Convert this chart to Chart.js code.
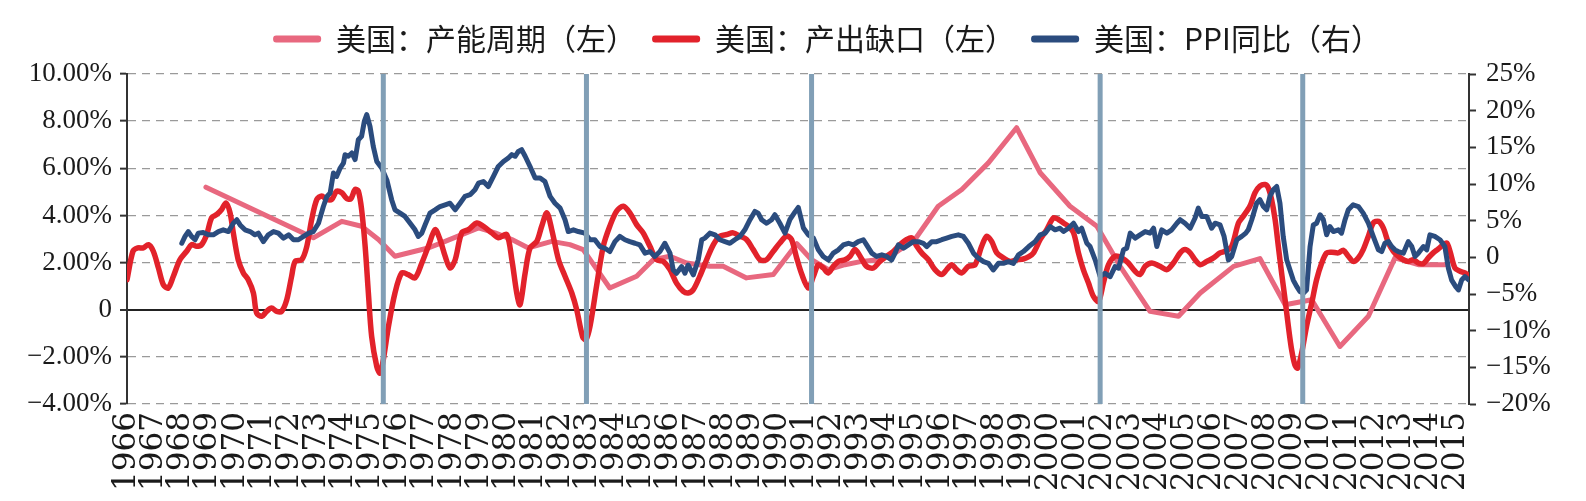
<!DOCTYPE html>
<html>
<head>
<meta charset="utf-8">
<script src="https://cdn.jsdelivr.net/npm/chart.js@4.4.1/dist/chart.umd.min.js"></script>
<style>
  html, body { margin: 0; padding: 0; background: #ffffff; }
  #wrap { width: 1586px; height: 501px; }
</style>
</head>
<body>
<div id="wrap"><canvas id="c" width="1586" height="501"></canvas></div>
<script>
// ---------------- DATA ----------------
const seriesNames = ['美国：产能周期（左）', '美国：产出缺口（左）', '美国：PPI同比（右）'];

// [year, value %]  — 产能周期 (left axis)
const capacityCycle = [
  [1968.91,5.2],[1972.87,3.05],[1973.92,3.75],[1974.65,3.54],[1975.27,2.98],[1975.88,2.27],[1976.62,2.48],
  [1977.11,2.62],[1977.73,2.9],[1978.96,3.47],[1979.57,3.26],[1980.19,2.98],[1980.8,2.62],[1981.66,2.9],
  [1982.33,2.76],[1982.82,2.55],[1983.8,0.92],[1984.79,1.42],[1985.4,2.12],[1986.02,2.27],[1986.63,1.98],
  [1987.49,1.84],[1987.98,1.84],[1988.84,1.35],[1989.83,1.49],[1990.7,2.8],[1991.24,2.12],[1991.86,1.7],
  [1992.47,1.91],[1993.09,2.05],[1993.7,2.12],[1994.32,2.41],[1995.05,2.98],[1995.91,4.39],[1996.78,5.1],
  [1997.76,6.23],[1998.8,7.72],[1999.67,5.81],[2000.77,4.39],[2001.76,3.54],[2002.62,1.84],[2003.72,-0.07],
  [2004.77,-0.28],[2005.57,0.71],[2006.8,1.84],[2007.77,2.17],[2008.7,0.21],[2009.68,0.42],[2010.72,-1.56],
  [2011.77,-0.28],[2012.75,2.2],[2013.61,1.91],[2014.59,1.91]
];

// [year, value %]  — 产出缺口 (left axis)
const outputGap = [
  [1966.0,1.27],[1966.22,2.48],[1966.4,2.62],[1966.6,2.62],[1966.79,2.76],[1966.97,2.48],[1967.16,1.77],[1967.34,1.06],
  [1967.52,0.92],[1967.71,1.42],[1967.95,2.12],[1968.2,2.48],[1968.38,2.76],[1968.57,2.69],[1968.75,2.76],[1968.94,3.19],
  [1969.12,3.9],[1969.31,4.04],[1969.49,4.25],[1969.65,4.53],[1969.8,4.11],[1969.92,3.26],[1970.1,2.12],[1970.29,1.56],
  [1970.47,1.27],[1970.66,0.71],[1970.78,-0.14],[1970.97,-0.28],[1971.15,-0.07],[1971.33,0.07],[1971.52,-0.07],[1971.7,-0.07],
  [1971.89,0.42],[1972.07,1.42],[1972.2,2.05],[1972.44,2.12],[1972.63,2.69],[1972.81,3.83],[1973.0,4.68],[1973.18,4.82],
  [1973.36,4.68],[1973.55,4.68],[1973.73,5.03],[1973.92,4.96],[1974.1,4.72],[1974.25,4.7],[1974.41,5.1],[1974.53,5.03],
  [1974.65,4.25],[1974.78,2.69],[1974.9,0.71],[1975.02,-1.13],[1975.21,-2.41],[1975.33,-2.69],[1975.45,-2.12],[1975.64,-0.71],
  [1975.88,0.71],[1976.13,1.56],[1976.37,1.49],[1976.62,1.35],[1976.87,1.98],[1977.11,2.69],[1977.36,3.4],[1977.54,2.98],
  [1977.73,2.27],[1977.91,1.77],[1978.1,2.12],[1978.34,3.26],[1978.59,3.4],[1978.9,3.68],[1979.14,3.54],[1979.45,3.26],
  [1979.69,3.05],[1980.0,3.19],[1980.19,2.12],[1980.37,0.71],[1980.49,0.21],[1980.68,1.56],[1980.86,2.62],[1981.11,2.9],
  [1981.29,3.54],[1981.48,4.11],[1981.66,3.4],[1981.91,2.12],[1982.15,1.42],[1982.4,0.71],[1982.58,0],[1982.8,-1.15],
  [1982.92,-1.27],[1983.07,-0.71],[1983.31,0.99],[1983.56,2.69],[1983.8,3.54],[1984.05,4.18],[1984.3,4.39],[1984.54,4.11],
  [1984.79,3.61],[1985.03,3.26],[1985.28,2.69],[1985.53,2.12],[1985.77,2.05],[1986.02,1.7],[1986.26,1.13],[1986.51,0.78],
  [1986.69,0.71],[1986.88,0.85],[1987.12,1.42],[1987.37,2.12],[1987.62,2.76],[1987.86,3.12],[1988.11,3.19],[1988.35,3.26],
  [1988.6,3.12],[1988.84,2.98],[1989.09,2.55],[1989.34,2.12],[1989.58,2.12],[1989.83,2.48],[1990.07,2.83],[1990.32,3.12],
  [1990.5,2.98],[1990.69,2.2],[1990.88,1.5],[1991.12,0.92],[1991.31,1.42],[1991.49,1.91],[1991.67,1.77],[1991.86,1.56],
  [1992.04,1.84],[1992.23,2.05],[1992.47,2.12],[1992.66,2.27],[1992.84,2.55],[1993.03,2.27],[1993.27,1.84],[1993.52,1.77],
  [1993.76,2.05],[1994.01,2.27],[1994.26,2.48],[1994.5,2.76],[1994.75,2.98],[1994.93,3.05],[1995.12,2.69],[1995.3,2.41],
  [1995.55,2.12],[1995.79,1.7],[1996.04,1.49],[1996.22,1.7],[1996.41,1.91],[1996.59,1.7],[1996.78,1.56],[1997.02,1.84],
  [1997.27,1.91],[1997.51,2.69],[1997.7,3.12],[1997.88,2.9],[1998.07,2.41],[1998.31,2.2],[1998.56,2.05],[1998.8,2.12],
  [1999.05,2.15],[1999.25,2.25],[1999.42,2.41],[1999.67,2.98],[1999.91,3.4],[2000.16,3.9],[2000.34,3.83],[2000.53,3.68],
  [2000.71,3.54],[2000.9,3.26],[2001.08,2.41],[2001.26,1.7],[2001.45,1.13],[2001.63,0.57],[2001.82,0.35],[2002.0,1.13],
  [2002.19,1.91],[2002.43,2.27],[2002.68,2.2],[2002.92,1.98],[2003.17,1.63],[2003.35,1.49],[2003.54,1.84],[2003.79,1.98],
  [2004.09,1.84],[2004.34,1.7],[2004.58,1.98],[2004.83,2.41],[2005.01,2.55],[2005.2,2.41],[2005.38,2.12],[2005.57,1.91],
  [2005.81,2.05],[2006.06,2.2],[2006.3,2.41],[2006.49,2.48],[2006.73,2.69],[2006.98,3.68],[2007.16,3.97],[2007.4,4.39],
  [2007.59,4.96],[2007.77,5.24],[2007.96,5.31],[2008.08,5.17],[2008.2,4.68],[2008.33,3.83],[2008.45,2.69],[2008.57,1.56],
  [2008.7,0.42],[2008.82,-0.71],[2008.94,-1.7],[2009.06,-2.34],[2009.16,-2.48],[2009.31,-1.84],[2009.49,-0.71],[2009.68,0.28],
  [2009.86,1.27],[2010.05,1.98],[2010.23,2.41],[2010.42,2.44],[2010.66,2.41],[2010.85,2.52],[2011.03,2.27],[2011.21,2.05],
  [2011.4,2.2],[2011.58,2.55],[2011.77,3.12],[2011.95,3.68],[2012.14,3.75],[2012.32,3.47],[2012.51,2.83],[2012.69,2.48],
  [2012.87,2.27],[2013.06,2.12],[2013.24,2.05],[2013.43,2.12],[2013.61,1.98],[2013.8,1.96],[2013.98,2.2],[2014.16,2.41],
  [2014.35,2.58],[2014.53,2.76],[2014.66,2.83],[2014.78,2.48],[2014.96,1.77],[2015.15,1.63],[2015.33,1.56],[2015.48,1.42]
];

// [year, value %]  — PPI同比 (right axis)
const ppiYoY = [
  [1968.02,1.92],[1968.14,2.85],[1968.26,3.52],[1968.38,2.85],[1968.51,2.4],[1968.63,3.3],[1968.81,3.39],[1969.0,3.07],
  [1969.18,3.07],[1969.37,3.52],[1969.55,3.75],[1969.74,3.52],[1969.92,4.65],[1970.05,5.13],[1970.17,4.42],[1970.35,3.75],
  [1970.54,3.52],[1970.72,3.07],[1970.84,3.3],[1971.03,2.14],[1971.21,3.07],[1971.4,3.52],[1971.58,3.3],[1971.77,2.62],
  [1971.96,3.07],[1972.14,2.4],[1972.32,2.4],[1972.51,2.85],[1972.7,3.3],[1972.87,3.52],[1973.06,4.65],[1973.24,6.93],
  [1973.37,8.31],[1973.49,8.76],[1973.61,11.49],[1973.73,11.04],[1973.86,12.17],[1973.98,12.84],[1974.04,14.0],[1974.16,13.78],
  [1974.29,14.23],[1974.41,13.33],[1974.53,16.03],[1974.65,16.51],[1974.75,18.53],[1974.84,19.47],[1974.96,17.86],[1975.08,15.13],
  [1975.21,13.07],[1975.39,12.17],[1975.58,10.56],[1975.76,7.83],[1975.88,6.48],[1976.07,6.03],[1976.25,5.58],[1976.44,4.65],
  [1976.62,3.75],[1976.74,2.85],[1976.87,3.3],[1976.99,4.42],[1977.17,6.03],[1977.36,6.48],[1977.54,6.93],[1977.73,7.16],
  [1977.91,7.38],[1978.1,6.48],[1978.28,7.38],[1978.46,8.31],[1978.65,8.54],[1978.83,9.21],[1978.96,10.11],[1979.14,10.34],
  [1979.32,9.66],[1979.51,11.04],[1979.69,12.39],[1979.88,13.07],[1980.06,13.55],[1980.19,14.0],[1980.31,13.78],[1980.43,14.45],
  [1980.55,14.68],[1980.68,13.78],[1980.86,12.39],[1981.05,10.82],[1981.23,10.82],[1981.41,10.34],[1981.6,8.31],[1981.78,7.38],
  [1981.97,6.71],[1982.15,5.13],[1982.27,3.52],[1982.46,3.75],[1982.64,3.52],[1982.88,3.3],[1983.07,2.4],[1983.25,2.4],
  [1983.44,1.47],[1983.62,1.24],[1983.8,0.79],[1983.99,2.14],[1984.17,2.85],[1984.36,2.4],[1984.54,2.14],[1984.73,1.92],
  [1984.91,1.69],[1985.1,0.57],[1985.28,0.79],[1985.46,0.12],[1985.65,0.79],[1985.83,1.92],[1986.02,0.57],[1986.14,-1.72],
  [1986.26,-2.17],[1986.45,-1.27],[1986.57,-2.17],[1986.69,-1.04],[1986.88,-2.39],[1987.06,-0.37],[1987.19,2.4],[1987.31,2.62],
  [1987.49,3.3],[1987.68,3.07],[1987.86,2.4],[1988.05,2.14],[1988.23,1.92],[1988.41,2.4],[1988.6,2.85],[1988.78,3.75],
  [1988.97,5.13],[1989.15,6.26],[1989.27,6.03],[1989.4,5.13],[1989.58,4.65],[1989.77,5.13],[1989.89,5.81],[1990.07,4.65],
  [1990.26,3.3],[1990.44,5.13],[1990.63,6.2],[1990.75,6.8],[1990.94,4.0],[1991.12,3.07],[1991.31,2.62],[1991.49,1.02],
  [1991.67,0.12],[1991.86,-0.37],[1992.04,0.57],[1992.23,1.02],[1992.41,1.69],[1992.6,1.92],[1992.78,1.69],[1992.96,2.14],
  [1993.15,2.4],[1993.27,1.69],[1993.46,0.57],[1993.64,0.12],[1993.83,0.34],[1994.01,0.12],[1994.19,-0.37],[1994.32,0.57],
  [1994.44,1.69],[1994.63,1.24],[1994.81,1.69],[1994.99,2.14],[1995.18,2.14],[1995.36,1.92],[1995.49,1.47],[1995.67,2.14],
  [1995.85,2.14],[1996.04,2.4],[1996.22,2.62],[1996.41,2.85],[1996.65,3.07],[1996.84,2.85],[1997.02,1.92],[1997.21,0.57],
  [1997.39,-0.11],[1997.58,-0.59],[1997.76,-0.82],[1997.94,-1.72],[1998.13,-0.82],[1998.31,-0.82],[1998.5,-0.59],[1998.68,-0.82],
  [1998.87,0.34],[1999.05,0.79],[1999.25,1.47],[1999.48,2.14],[1999.67,3.07],[1999.85,3.3],[2000.04,4.2],[2000.22,3.75],
  [2000.4,3.97],[2000.53,3.52],[2000.71,3.97],[2000.9,4.65],[2001.08,3.52],[2001.2,3.97],[2001.39,1.92],[2001.51,1.47],
  [2001.7,-0.37],[2001.88,-2.62],[2002.06,-2.17],[2002.25,-2.62],[2002.43,-1.27],[2002.56,-1.49],[2002.74,1.02],[2002.86,1.24],
  [2002.99,3.3],[2003.17,2.62],[2003.35,3.07],[2003.54,3.52],[2003.72,3.3],[2003.85,3.97],[2003.97,1.47],[2004.15,3.75],
  [2004.34,3.3],[2004.52,3.75],[2004.71,4.65],[2004.83,5.13],[2005.01,4.65],[2005.2,3.97],[2005.38,5.36],[2005.5,6.71],
  [2005.63,5.58],[2005.81,5.58],[2005.99,3.97],[2006.12,4.65],[2006.3,4.42],[2006.45,2.85],[2006.61,-0.37],[2006.73,0.12],
  [2006.92,2.4],[2007.1,2.85],[2007.25,3.3],[2007.34,3.75],[2007.47,5.13],[2007.65,7.38],[2007.77,7.86],[2007.9,6.93],
  [2008.02,6.48],[2008.14,8.31],[2008.26,9.21],[2008.39,9.66],[2008.51,7.38],[2008.63,2.85],[2008.76,-0.37],[2008.88,-1.72],
  [2009.0,-3.1],[2009.13,-4.0],[2009.25,-4.67],[2009.37,-4.9],[2009.49,-4.45],[2009.62,1.47],[2009.74,4.42],[2009.86,4.65],
  [2009.99,5.81],[2010.11,5.13],[2010.23,3.07],[2010.35,4.2],[2010.48,3.52],[2010.66,3.75],[2010.78,3.3],[2010.91,5.13],
  [2011.03,6.48],[2011.21,7.16],[2011.4,6.93],[2011.58,6.03],[2011.77,4.65],[2011.95,2.85],[2012.14,1.02],[2012.26,0.79],
  [2012.38,1.92],[2012.51,2.14],[2012.63,1.47],[2012.75,1.02],[2012.87,0.79],[2013.06,0.57],[2013.24,2.14],[2013.37,1.47],
  [2013.49,0.12],[2013.61,0.57],[2013.8,1.47],[2013.92,1.02],[2014.04,3.07],[2014.22,2.85],[2014.41,2.4],[2014.59,1.47],
  [2014.72,-1.49],[2014.84,-3.1],[2014.99,-4.0],[2015.09,-4.45],[2015.21,-3.1],[2015.33,-2.62],[2015.48,-3.1]
];

// recession trough markers (years)
const recessionMarks = [1975.45, 1982.94, 1991.24, 2001.88, 2009.35];

// axis ranges / ticks
const xRange = [1966, 2015.48];
const leftRange = [-4, 10], leftStep = 2;
const rightRange = [-20, 25], rightStep = 5;

// ---------------- STYLE ----------------
const PINK = '#E8687F', RED = '#E2222B', NAVY = '#2B4C7E', STEEL = '#819FB6';
const SERIF = "'Liberation Serif', 'Times New Roman', serif";
const CJK = "'Noto Sans CJK SC', 'Noto Sans', sans-serif";
const TXT = '#1a1a1a';
const LEGEND_FONT = 30;
const LEGEND_SHIFT = 24;

const toXY = arr => arr.map(p => ({x: p[0], y: p[1]}));
const recessionPoints = recessionMarks.flatMap(x => [{x, y: leftRange[0]}, {x, y: leftRange[1]}, {x, y: null}]);

const fmtLeft = v => v === 0 ? '0' : (v < 0 ? '\u2212' : '') + Math.abs(v).toFixed(2) + '%';
const fmtRight = v => v === 0 ? '0' : (v < 0 ? '\u2212' : '') + Math.abs(v) + '%';
const isZero = c => c.tick && c.tick.value === 0;

// nudges the legend block horizontally (reference legend sits a little right of centre)
const legendShift = {
  id: 'legendShift',
  afterLayout(chart) {
    const lg = chart.legend;
    if (lg) { lg.left += LEGEND_SHIFT; lg.right += LEGEND_SHIFT; }
  }
};

new Chart(document.getElementById('c'), {
  type: 'line',
  plugins: [legendShift],
  data: {
    datasets: [
      {label: seriesNames[0], data: toXY(capacityCycle), yAxisID: 'y', borderColor: PINK, backgroundColor: PINK,
       borderWidth: 5, order: 3, tension: 0},
      {label: seriesNames[1], data: toXY(outputGap), yAxisID: 'y', borderColor: RED, backgroundColor: RED,
       borderWidth: 5.5, order: 2, tension: 0.3},
      {label: seriesNames[2], data: toXY(ppiYoY), yAxisID: 'y2', borderColor: NAVY, backgroundColor: NAVY,
       borderWidth: 5, order: 1, tension: 0},
      {label: '', data: recessionPoints, yAxisID: 'y', borderColor: STEEL, backgroundColor: STEEL,
       borderWidth: 5, order: 0, spanGaps: false, borderCapStyle: 'butt'}
    ]
  },
  options: {
    responsive: false,
    animation: false,
    devicePixelRatio: 1,
    layout: {padding: {top: 54 - LEGEND_FONT - 16, left: 20, right: 0, bottom: 0}},
    elements: {
      point: {radius: 0, hoverRadius: 0},
      line: {borderCapStyle: 'round', borderJoinStyle: 'round', fill: false}
    },
    plugins: {
      tooltip: {enabled: false},
      title: {display: true, text: '', weight: 500, padding: 0, font: {size: 10, lineHeight: 1}},
      legend: {
        position: 'top',
        labels: {
          font: {family: CJK, size: LEGEND_FONT},
          color: TXT,
          boxWidth: 48,
          boxHeight: 7,
          padding: 16,
          useBorderRadius: true,
          borderRadius: 3,
          filter: item => item.text !== '',
          sort: (a, b) => a.datasetIndex - b.datasetIndex,
          generateLabels: chart => Chart.defaults.plugins.legend.labels.generateLabels(chart)
            .map(it => Object.assign(it, {lineWidth: 0}))
        }
      }
    },
    scales: {
      x: {
        type: 'linear',
        position: 'bottom',
        min: xRange[0], max: xRange[1],
        grid: {display: false, drawTicks: false},
        border: {display: false},
        ticks: {
          stepSize: 1, autoSkip: false, includeBounds: false,
          minRotation: 90, maxRotation: 90, padding: 8,
          font: {family: "'DejaVu Serif', serif", size: 31},
          color: TXT,
          callback: v => Number.isInteger(v) ? String(v) : ''
        },
        afterFit: s => { s.height = 97; }
      },
      y: {
        position: 'left',
        min: leftRange[0], max: leftRange[1],
        ticks: {stepSize: leftStep, autoSkip: false, padding: 8, font: {family: SERIF, size: 27}, color: TXT, callback: fmtLeft},
        grid: {
          color: c => isZero(c) ? '#222222' : '#9a9a9a',
          lineWidth: c => isZero(c) ? 2 : 1.3,
          drawTicks: true, tickLength: 7, tickColor: '#333333', tickWidth: 2
        },
        border: {display: true, color: '#333333', width: 2, dash: c => isZero(c) ? [] : [8, 6]},
        afterFit: s => { s.width = 107; }
      },
      y2: {
        position: 'right',
        min: rightRange[0], max: rightRange[1],
        ticks: {stepSize: rightStep, autoSkip: false, padding: 10, font: {family: SERIF, size: 27}, color: TXT, callback: fmtRight},
        grid: {drawOnChartArea: false, drawTicks: true, tickLength: 7, tickColor: '#333333', tickWidth: 2, color: '#333333'},
        border: {display: true, color: '#333333', width: 2},
        afterFit: s => { s.width = 117; }
      }
    }
  }
});
</script>
</body>
</html>
